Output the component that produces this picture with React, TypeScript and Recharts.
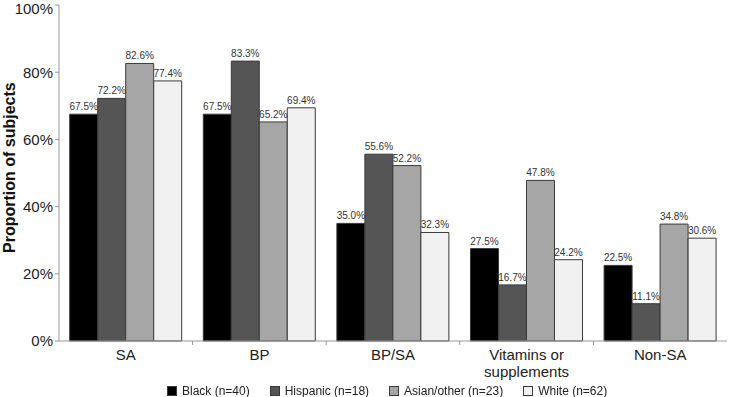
import { BarChart, Bar, XAxis, YAxis, LabelList } from "recharts";

const categories = ["SA", "BP", "BP/SA", "Vitamins or supplements", "Non-SA"];
const black = [67.5, 67.5, 35.0, 27.5, 22.5];
const hispanic = [72.2, 83.3, 55.6, 16.7, 11.1];
const asian = [82.6, 65.2, 52.2, 47.8, 34.8];
const white = [77.4, 69.4, 32.3, 24.2, 30.6];
const yTicks = [0, 20, 40, 60, 80, 100];

const series = [
  { key: "black", name: "Black (n=40)", values: black, color: "#000000" },
  { key: "hispanic", name: "Hispanic (n=18)", values: hispanic, color: "#555555" },
  { key: "asian", name: "Asian/other (n=23)", values: asian, color: "#a6a6a6" },
  { key: "white", name: "White (n=62)", values: white, color: "#f1f1f1" },
];

const data = categories.map((c, i) => {
  const row: Record<string, string | number> = { name: c };
  series.forEach((s) => {
    row[s.key] = s.values[i];
  });
  return row;
});

const FONT = "'Liberation Sans', Arial, sans-serif";
const W = 730;
const H = 397;

// wraps long category names, draws tick marks at the band edges
const CategoryTick = (props: any) => {
  const { x, y, payload, index } = props;
  const band = (W - 59 - 3) / categories.length;
  const words = String(payload.value).split(" ");
  const lines: string[] = [];
  let cur = "";
  words.forEach((w) => {
    const next = cur ? cur + " " + w : w;
    if (next.length > 12 && cur) {
      lines.push(cur);
      cur = w;
    } else cur = next;
  });
  if (cur) lines.push(cur);
  return (
    <g>
      {index < categories.length - 1 && (
        <line x1={x + band / 2} x2={x + band / 2} y1={y} y2={y + 4} stroke="#999" />
      )}
      <text x={x} y={y + 19} textAnchor="middle" fontSize={15} fill="#222" fontFamily={FONT}>
        {lines.map((l, i) => (
          <tspan key={i} x={x} dy={i === 0 ? 0 : 17}>
            {l}
          </tspan>
        ))}
      </text>
    </g>
  );
};

export default function App() {
  return (
    <div style={{ position: "fixed", left: 0, top: 0, width: W, height: H, background: "#fff", fontFamily: FONT }}>
      <BarChart
        width={W}
        height={H}
        data={data}
        margin={{ top: 5, right: 3, left: 0, bottom: 0 }}
        barGap={0}
        barCategoryGap="8%"
      >
        <XAxis
          dataKey="name"
          height={56}
          tick={<CategoryTick />}
          tickLine={false}
          tickSize={0}
          tickMargin={0}
          axisLine={{ stroke: "#999" }}
          interval={0}
        />
        <YAxis
          width={59}
          domain={[0, 100]}
          ticks={yTicks}
          tickFormatter={(v) => `${v}%`}
          tick={{ fontSize: 15, fill: "#222", fontFamily: FONT }}
          tickSize={4}
          tickLine={{ stroke: "#999" }}
          axisLine={{ stroke: "#999" }}
          label={{
            value: "Proportion of subjects",
            angle: -90,
            position: "insideLeft",
            dx: 4,
            dy: 80,
            style: { fontSize: 16, fontWeight: "bold", fill: "#111", fontFamily: FONT },
          }}
        />
        {series.map((s) => (
          <Bar key={s.key} dataKey={s.key} name={s.name} fill={s.color} stroke="#3a3a3a" strokeWidth={1} isAnimationActive={false}>
            <LabelList
              dataKey={s.key}
              position="top"
              offset={4}
              formatter={(v: any) => `${Number(v).toFixed(1)}%`}
              style={{ fontSize: 10, fill: "#333", fontFamily: FONT }}
            />
          </Bar>
        ))}
      </BarChart>
      <div
        style={{
          position: "absolute",
          top: 384,
          left: 167,
          display: "flex",
          gap: 20,
          fontSize: 12,
          lineHeight: "14px",
          color: "#222",
        }}
      >
        {series.map((s) => (
          <div key={s.key} style={{ display: "flex", alignItems: "center" }}>
            <span
              style={{
                width: 8,
                height: 8,
                background: s.color,
                border: "1px solid #3a3a3a",
                marginRight: 5,
                display: "inline-block",
              }}
            />
            {s.name}
          </div>
        ))}
      </div>
    </div>
  );
}
